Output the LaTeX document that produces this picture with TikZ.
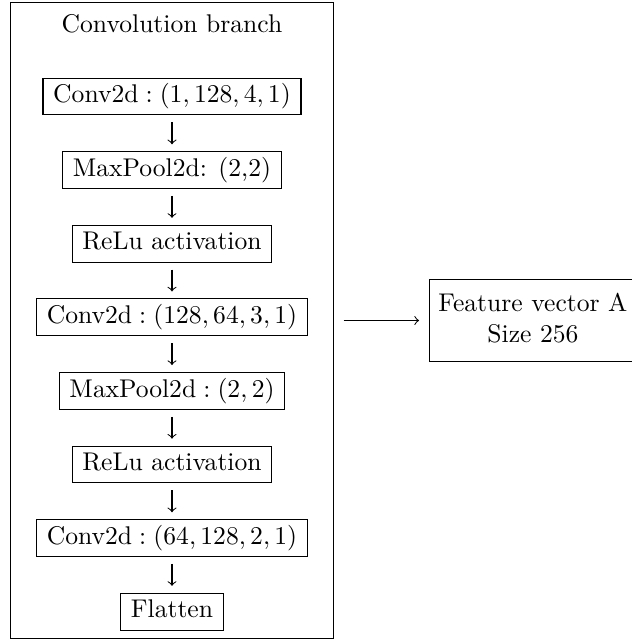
\documentclass[tikz,border=0pt]{standalone}
\begin{document}
\begin{tikzpicture}[x=0.390625pt,y=-0.390625pt,
  layerbox/.style={draw,inner xsep=4pt,inner ysep=1.2pt,font=\strut},
  branchbox/.style={draw,inner sep=0pt,minimum width=125.8pt,minimum height=248.8pt},
  featbox/.style={draw,align=center,inner xsep=3.5pt,inner ysep=4pt},
  flow/.style={->,shorten <=2.7pt,shorten >=2.7pt}]
\useasboundingbox (0,0) rectangle (632,641);
\node[branchbox] (branch) at (172,320.5) {};
\node[anchor=base] (title) at (172,32) {Convolution branch};
\node[layerbox] (conva) at (172,96.5) {$\mathrm{Conv2d} : (1, 128, 4, 1)$};
\node[layerbox] (poola) at (172,170.1) {MaxPool2d: (2,2)};
\node[layerbox] (relua) at (172,243.7) {ReLu activation};
\node[layerbox] (convb) at (172,317.3) {$\mathrm{Conv2d} : (128, 64, 3, 1)$};
\node[layerbox] (poolb) at (172,390.9) {$\mathrm{MaxPool2d} : (2, 2)$};
\node[layerbox] (relub) at (172,464.5) {ReLu activation};
\node[layerbox] (convc) at (172,538.1) {$\mathrm{Conv2d} : (64, 128, 2, 1)$};
\node[layerbox] (flat) at (172,611.7) {Flatten};
\node[featbox,anchor=west] (featA) at (429,320.5) {\strut Feature vector A\\\strut Size 256};
\draw[flow] (conva) -- (poola);
\draw[flow] (poola) -- (relua);
\draw[flow] (relua) -- (convb);
\draw[flow] (convb) -- (poolb);
\draw[flow] (poolb) -- (relub);
\draw[flow] (relub) -- (convc);
\draw[flow] (convc) -- (flat);
\draw[->,shorten <=3.9pt,shorten >=3.9pt] (branch.east) -- (featA.west);
\end{tikzpicture}
\end{document}
